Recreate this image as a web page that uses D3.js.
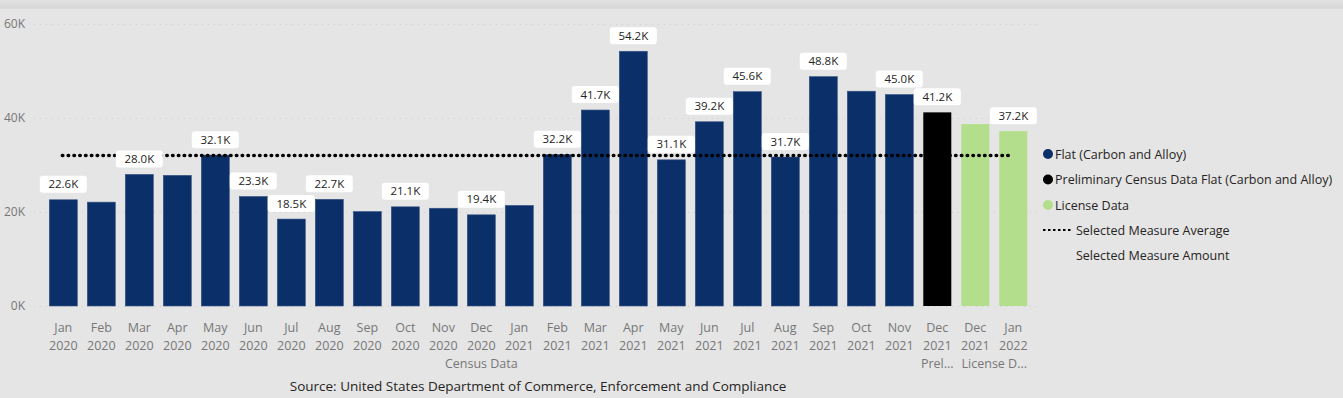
<!DOCTYPE html>
<html>
<head>
<meta charset="utf-8">
<script src="https://cdn.jsdelivr.net/npm/d3@7"></script>
<style>
  body { margin: 0; background: #e5e5e5; font-family: "Segoe UI", "Open Sans", sans-serif; }
  svg { display: block; }
</style>
</head>
<body>
<div id="plot"></div>
<script>
// ############ DATA ###############

const months = ["Jan","Feb","Mar","Apr","May","Jun","Jul","Aug","Sep","Oct","Nov","Dec",
                "Jan","Feb","Mar","Apr","May","Jun","Jul","Aug","Sep","Oct","Nov",
                "Dec","Dec","Jan"];
const years = ["2020","2020","2020","2020","2020","2020","2020","2020","2020","2020","2020","2020",
               "2021","2021","2021","2021","2021","2021","2021","2021","2021","2021","2021",
               "2021","2021","2022"];
const series = [0,0,0,0,0,0,0,0,0,0,0,0, 0,0,0,0,0,0,0,0,0,0,0, 1, 2,2];
const values = [22.6, 22.1, 28.0, 27.8, 32.1, 23.3, 18.5, 22.7, 20.1, 21.1, 20.8, 19.4,
                21.4, 32.2, 41.7, 54.2, 31.1, 39.2, 45.6, 31.7, 48.8, 45.7, 45.0,
                41.2, 38.7, 37.2].map(v => v * 1000);
const showLabel = [1,0,1,0,1,1,1,1,0,1,0,1, 0,1,1,1,1,1,1,1,1,0,1, 1, 0,1];
const groups = [{name: "Census Data", from: 0, to: 22},
                {name: "Prel...", from: 23, to: 23},
                {name: "License D...", from: 24, to: 25}];
const seriesNames = ["Flat (Carbon and Alloy)", "Preliminary Census Data Flat (Carbon and Alloy)", "License Data"];
const seriesColors = ["#0a2f69", "#000000", "#b3df8d"];
const yTicks = [0, 20000, 40000, 60000];

const w = 1343, h = 398;
const data = values.map((v, i) => ({i: i, month: months[i], year: years[i], s: series[i], value: v, label: showLabel[i]}));
const avg = d3.mean(values);

// ############ SCALES ###############

const xScale = d3.scaleBand()
  .domain(d3.range(values.length))
  .range([44.3, 1032.3])
  .paddingInner(0.263)
  .paddingOuter(0.1315);

const yScale = d3.scaleLinear()
  .domain([0, 60000])
  .range([306, 24]);

const fmt = v => (v / 1000).toFixed(1) + "K";

const svg = d3.select("div#plot")
  .append("svg")
  .attr("width", w)
  .attr("height", h);

// top strip with shadow
const defs = svg.append("defs");
const grad = defs.append("linearGradient").attr("id", "topshade").attr("x1", 0).attr("x2", 0).attr("y1", 0).attr("y2", 1);
grad.append("stop").attr("offset", "0%").attr("stop-color", "#e2e2e2");
grad.append("stop").attr("offset", "100%").attr("stop-color", "#d8d8d8");
svg.append("rect").attr("x", 0).attr("y", 0).attr("width", w).attr("height", 8).attr("fill", "url(#topshade)");
svg.append("rect").attr("x", 0).attr("y", 8).attr("width", w).attr("height", 1).attr("fill", "#dadada");

// ############ GRID + Y AXIS ###############

svg.append("g")
  .attr("id", "grid")
  .selectAll("line")
  .data(yTicks)
  .enter()
  .append("line")
    .attr("x1", 34)
    .attr("x2", 1042)
    .attr("y1", d => Math.round(yScale(d)) + 0.5)
    .attr("y2", d => Math.round(yScale(d)) + 0.5)
    .attr("stroke", "#cfcfcf")
    .attr("stroke-dasharray", "1 5");

svg.append("g")
  .attr("id", "yaxis")
  .selectAll("text")
  .data(yTicks)
  .enter()
  .append("text")
    .attr("x", 25)
    .attr("y", d => yScale(d) + 4)
    .attr("text-anchor", "end")
    .attr("font-size", 12)
    .attr("fill", "#777")
    .text(d => (d / 1000) + "K");

// ############ BARS ###############

svg.append("g")
  .attr("id", "bars")
  .selectAll("rect")
  .data(data)
  .enter()
  .append("rect")
    .attr("x", d => xScale(d.i))
    .attr("y", d => yScale(d.value))
    .attr("width", xScale.bandwidth())
    .attr("height", d => yScale(0) - yScale(d.value))
    .attr("fill", d => seriesColors[d.s])
    .attr("stroke", d => d.s == 0 ? "#3a5584" : "none")
    .attr("stroke-width", 0.6);

// ############ AVERAGE LINE ###############

svg.append("line")
  .attr("id", "avg")
  .attr("x1", xScale(0) + xScale.bandwidth() / 2 - 1)
  .attr("x2", xScale(values.length - 1) + xScale.bandwidth() / 2)
  .attr("y1", yScale(avg))
  .attr("y2", yScale(avg))
  .attr("stroke", "#000")
  .attr("stroke-width", 3.4)
  .attr("stroke-linecap", "round")
  .attr("stroke-dasharray", "0.6 5.2");

// ############ DATA LABELS ###############

const labels = svg.append("g")
  .attr("id", "labels")
  .selectAll("g")
  .data(data.filter(d => d.label))
  .enter()
  .append("g")
    .attr("transform", d => `translate(${xScale(d.i) + xScale.bandwidth() / 2}, ${yScale(d.value) - 7})`);

labels.append("rect")
  .attr("x", -23.5)
  .attr("y", -17)
  .attr("width", 47)
  .attr("height", 17)
  .attr("rx", 3)
  .attr("fill", "#fff");

labels.append("text")
  .attr("x", 0)
  .attr("y", -4.5)
  .attr("text-anchor", "middle")
  .attr("font-size", 11.5)
  .attr("fill", "#252423")
  .text(d => fmt(d.value));

// ############ X AXIS ###############

const xaxis = svg.append("g").attr("id", "xaxis");

xaxis.selectAll("text.month")
  .data(data)
  .enter()
  .append("text")
    .attr("class", "month")
    .attr("x", d => xScale(d.i) + xScale.bandwidth() / 2)
    .attr("y", 332)
    .attr("text-anchor", "middle")
    .attr("font-size", 12.5)
    .attr("fill", "#777")
    .text(d => d.month);

xaxis.selectAll("text.year")
  .data(data)
  .enter()
  .append("text")
    .attr("class", "year")
    .attr("x", d => xScale(d.i) + xScale.bandwidth() / 2)
    .attr("y", 350)
    .attr("text-anchor", "middle")
    .attr("font-size", 12.5)
    .attr("fill", "#777")
    .text(d => d.year);

xaxis.selectAll("text.group")
  .data(groups)
  .enter()
  .append("text")
    .attr("class", "group")
    .attr("x", d => (xScale(d.from) + xScale(d.to) + xScale.bandwidth()) / 2)
    .attr("y", 368)
    .attr("text-anchor", "middle")
    .attr("font-size", 12.5)
    .attr("fill", "#777")
    .text(d => d.name);

svg.append("text")
  .attr("x", 538)
  .attr("y", 391)
  .attr("text-anchor", "middle")
  .attr("font-size", 13.5)
  .attr("fill", "#252423")
  .text("Source: United States Department of Commerce, Enforcement and Compliance");

// ############ LEGEND ###############

const legend = svg.append("g").attr("id", "legend");

const legItems = legend.selectAll("g")
  .data(seriesNames)
  .enter()
  .append("g")
    .attr("transform", (d, i) => `translate(1048, ${154 + i * 25.5})`);

legItems.append("circle")
  .attr("r", 5)
  .attr("fill", (d, i) => seriesColors[i]);

legItems.append("text")
  .attr("x", 7)
  .attr("y", 4.5)
  .attr("font-size", 12.5)
  .attr("fill", "#252423")
  .text(d => d);

legend.append("line")
  .attr("x1", 1043)
  .attr("x2", 1071)
  .attr("y1", 230)
  .attr("y2", 230)
  .attr("stroke", "#000")
  .attr("stroke-width", 2)
  .attr("stroke-dasharray", "2.5 2.5");

legend.append("text")
  .attr("x", 1076)
  .attr("y", 234.5)
  .attr("font-size", 12.5)
  .attr("fill", "#252423")
  .text("Selected Measure Average");

legend.append("text")
  .attr("x", 1076)
  .attr("y", 260)
  .attr("font-size", 12.5)
  .attr("fill", "#252423")
  .text("Selected Measure Amount");
</script>
</body>
</html>
